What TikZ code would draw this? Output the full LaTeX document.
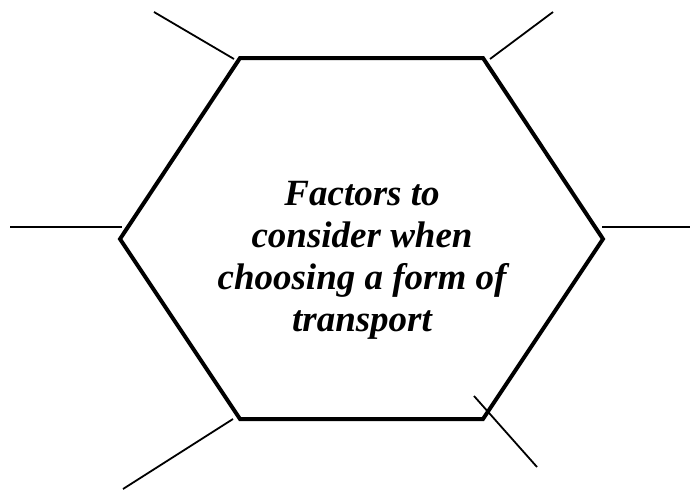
\documentclass[tikz,border=0pt]{standalone}
\usepackage{fontspec}
\setmainfont{Liberation Serif}
\begin{document}
\begin{tikzpicture}[x=1pt,y=-1pt,
  hexline/.style={line width=4pt,line join=miter},
  spoke/.style={line width=1.8pt},
  label/.style={font=\fontsize{37}{42}\selectfont\bfseries\itshape,inner sep=0pt,anchor=base}]
\useasboundingbox (0,0) rectangle (690,490);
% hexagon vertices
\coordinate (v1) at (240,58);
\coordinate (v2) at (483,58);
\coordinate (v3) at (603,239);
\coordinate (v4) at (483,419);
\coordinate (v5) at (240,419);
\coordinate (v6) at (120,239);
\draw[hexline] (v1) -- (v2) -- (v3) -- (v4) -- (v5) -- (v6) -- cycle;
% spokes
\coordinate (a1) at (154,12);  \coordinate (b1) at (234,59);
\coordinate (a2) at (490,59);  \coordinate (b2) at (553,12);
\coordinate (a3) at (10,227);  \coordinate (b3) at (122,227);
\coordinate (a4) at (602,227); \coordinate (b4) at (690,227);
\coordinate (a5) at (233,419); \coordinate (b5) at (123,489);
\coordinate (a6) at (474,396); \coordinate (b6) at (537,467);
\draw[spoke] (a1) -- (b1);
\draw[spoke] (a2) -- (b2);
\draw[spoke] (a3) -- (b3);
\draw[spoke] (a4) -- (b4);
\draw[spoke] (a5) -- (b5);
\draw[spoke] (a6) -- (b6);
% text
\node[label] (t1) at (362,205) {Factors to};
\node[label] (t2) at (362,247) {consider when};
\node[label] (t3) at (362,289) {choosing a form of};
\node[label] (t4) at (362,331) {transport};
\end{tikzpicture}
\end{document}
